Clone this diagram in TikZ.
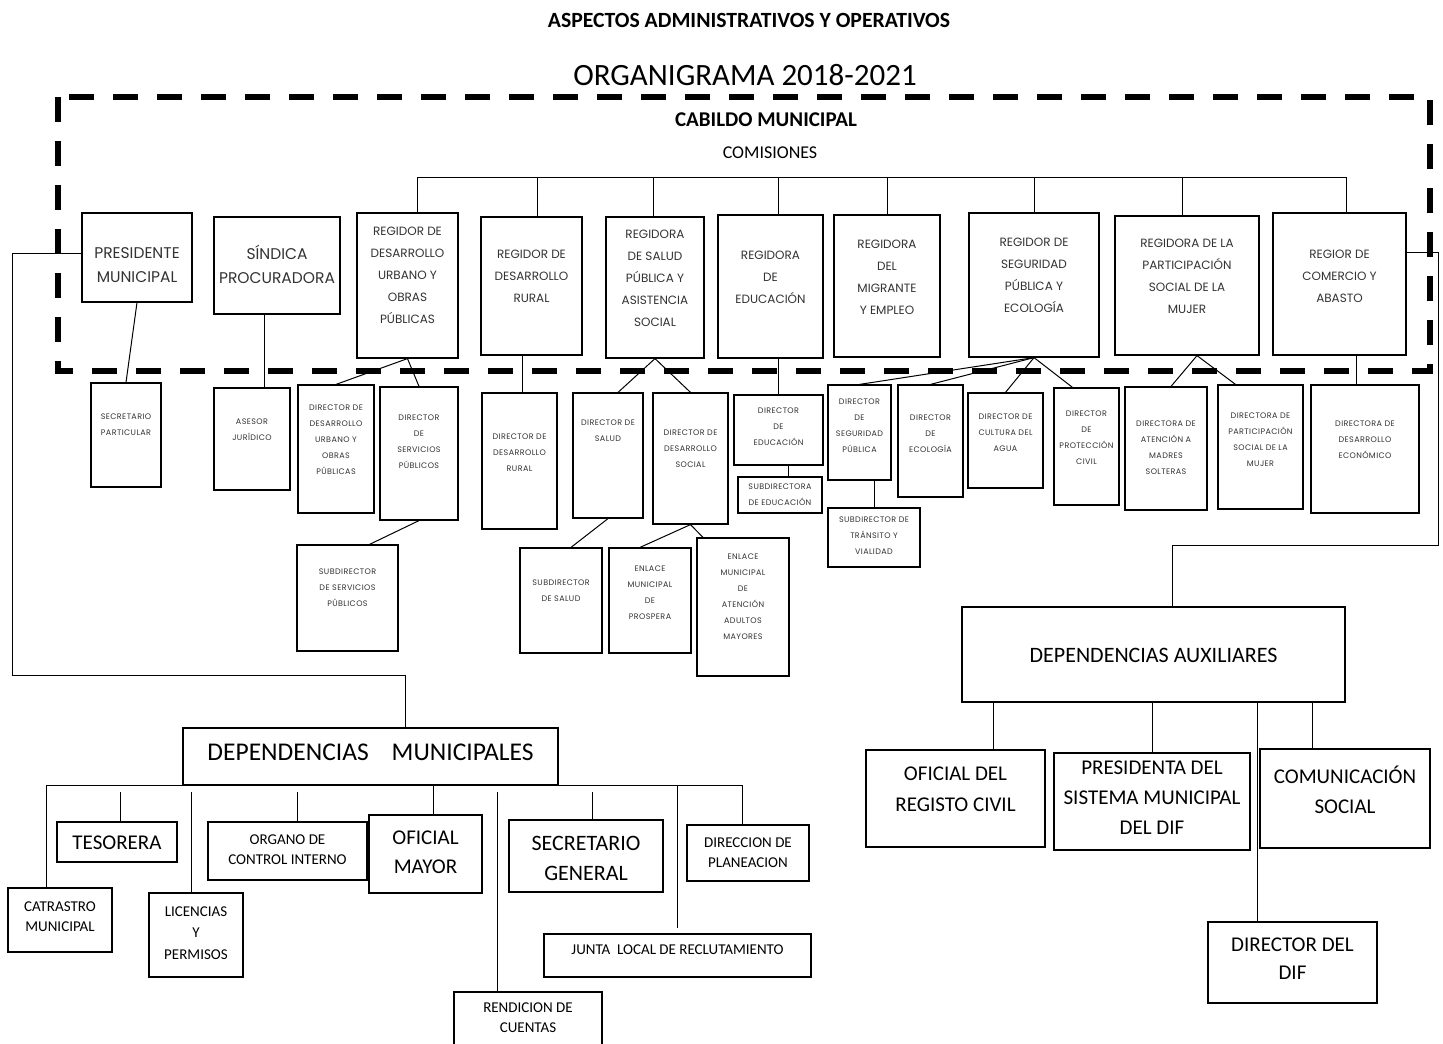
\documentclass[tikz,border=0pt]{standalone}
\usepackage{fontspec}
\setmainfont{Carlito}
\newfontfamily\gothic{Poppins}
\newfontfamily\dirfont[LetterSpace=5]{Poppins}
\usetikzlibrary{fit}
\newcommand{\obox}[8][]{%
  \node[box, fit={(#3,#4) (#5,#6)}] (#2) {};
  \node[txt, #1] (#2-t) at ({(#3+#5)/2},#7) {#8};}
\tikzset{
  box/.style={draw, line width=1.2pt, inner sep=0pt},
  txt/.style={align=center, inner sep=0pt},
  regt/.style={font=\gothic\fontsize{12}{22}\selectfont, text=black!80},
  bigt/.style={font=\gothic\fontsize{15.5}{24}\selectfont, text=black!80},
  dirt/.style={font=\dirfont\fontsize{8}{16}\selectfont, text=black!80},
  calt/.style={font=\fontsize{15}{20}\selectfont},
  calm/.style={font=\fontsize{21}{30}\selectfont},
  conn/.style={line width=1pt},
  dashbox/.style={line width=6pt, dash pattern=on 25pt off 19pt},
}
\begin{document}
\begin{tikzpicture}[x=1pt,y=-1pt]
\useasboundingbox (0,0) rectangle (1443,1044);
\fill[white] (0,0) rectangle (1443,1044);

% titles
\node[font=\bfseries\fontsize{21.7}{25}\selectfont] (title) at (749,20) {ASPECTOS ADMINISTRATIVOS Y OPERATIVOS};
\node[font=\fontsize{31}{36}\selectfont] (orga) at (745,75) {ORGANIGRAMA 2018-2021};
\draw[dashbox] (58,97) rectangle (1430,371);
\node[font=\bfseries\fontsize{21}{25}\selectfont] (cabildo) at (766,120) {CABILDO MUNICIPAL};
\node[font=\fontsize{18}{22}\selectfont] (comis) at (770,153) {COMISIONES};

% top row
\obox[bigt]{pres}{82}{213}{192}{302}{265}{PRESIDENTE\\MUNICIPAL}
\obox[bigt]{sind}{214}{217}{340}{314}{264}{SÍNDICA\\PROCURADORA}
\obox[regt]{regdu}{357}{213}{458}{358}{275}{REGIDOR DE\\DESARROLLO\\URBANO Y\\OBRAS\\PÚBLICAS}
\obox[regt]{rural}{481}{217}{582}{355}{276}{REGIDOR DE\\DESARROLLO\\RURAL}
\obox[regt]{salud}{606}{217}{704}{358}{278}{REGIDORA\\DE SALUD\\PÚBLICA Y\\ASISTENCIA\\SOCIAL}
\obox[regt]{educ}{718}{215}{823}{358}{277}{REGIDORA\\DE\\EDUCACIÓN}
\obox[regt]{migr}{834}{215}{940}{357}{277}{REGIDORA\\DEL\\MIGRANTE\\Y EMPLEO}
\obox[regt]{seg}{969}{213}{1099}{357}{275}{REGIDOR DE\\SEGURIDAD\\PÚBLICA Y\\ECOLOGÍA}
\obox[regt]{part}{1115}{216}{1259}{355}{276}{REGIDORA DE LA\\PARTICIPACIÓN\\SOCIAL DE LA\\MUJER}
\obox[regt]{com}{1273}{213}{1406}{355}{276}{REGIOR DE\\COMERCIO Y\\ABASTO}

% top bus
\coordinate (busL) at (417,177);
\coordinate (busR) at (1346,177);
\draw[conn] (busL) -- (busR);
\draw[conn] ([xshift=9.5pt]regdu.north) -- ([xshift=9.5pt]regdu.north |- busL);
\draw[conn] ([xshift=5.5pt]rural.north) -- ([xshift=5.5pt]rural.north |- busL);
\draw[conn] ([xshift=-2pt]salud.north) -- ([xshift=-2pt]salud.north |- busL);
\draw[conn] ([xshift=7.5pt]educ.north) -- ([xshift=7.5pt]educ.north |- busL);
\draw[conn] (migr.north) -- (migr.north |- busL);
\draw[conn] (seg.north) -- (seg.north |- busL);
\draw[conn] ([xshift=-5pt]part.north) -- ([xshift=-5pt]part.north |- busL);
\draw[conn] ([xshift=6.5pt]com.north) -- ([xshift=6.5pt]com.north |- busL);

% second row
\obox[dirt]{secp}{91}{383}{161}{487}{425}{SECRETARIO\\PARTICULAR}
\obox[dirt]{ases}{214}{388}{290}{490}{430}{ASESOR\\JURÍDICO}
\obox[dirt]{ddu}{298}{385}{374}{513}{440}{DIRECTOR DE\\DESARROLLO\\URBANO Y\\OBRAS\\PÚBLICAS}
\obox[dirt]{dserv}{380}{387}{458}{520}{442}{DIRECTOR\\DE\\SERVICIOS\\PÚBLICOS}
\obox[dirt]{subserv}{297}{545}{398}{651}{588}{SUBDIRECTOR\\DE SERVICIOS\\PÚBLICOS}
\obox[dirt]{drur}{482}{393}{557}{529}{453}{DIRECTOR DE\\DESARROLLO\\RURAL}
\obox[dirt]{dsal}{573}{393}{643}{518}{431}{DIRECTOR DE\\SALUD}
\obox[dirt]{dds}{653}{393}{728}{524}{449}{DIRECTOR DE\\DESARROLLO\\SOCIAL}
\obox[dirt]{subsal}{520}{548}{602}{653}{591}{SUBDIRECTOR\\DE SALUD}
\obox[dirt]{prosp}{609}{548}{691}{653}{593}{ENLACE\\MUNICIPAL\\DE\\PROSPERA}
\obox[dirt]{adult}{697}{538}{789}{676}{597}{ENLACE\\MUNICIPAL\\DE\\ATENCIÓN\\ADULTOS\\MAYORES}
\obox[dirt]{dedu}{734}{395}{823}{465}{427}{DIRECTOR\\DE\\EDUCACIÓN}
\obox[dirt]{subedu}{738}{477}{822}{513}{495}{SUBDIRECTORA\\DE EDUCACIÓN}
\obox[dirt]{dseg}{828}{385}{891}{480}{426}{DIRECTOR\\DE\\SEGURIDAD\\PÚBLICA}
\obox[dirt]{subtr}{828}{508}{920}{567}{536}{SUBDIRECTOR DE\\TRÁNSITO Y\\VIALIDAD}
\obox[dirt]{decol}{898}{385}{963}{497}{434}{DIRECTOR\\DE\\ECOLOGÍA}
\obox[dirt]{dcult}{968}{393}{1043}{488}{433}{DIRECTOR DE\\CULTURA DEL\\AGUA}
\obox[dirt]{dprot}{1054}{388}{1119}{505}{438}{DIRECTOR\\DE\\PROTECCIÓN\\CIVIL}
\obox[dirt]{madres}{1125}{387}{1207}{510}{448}{DIRECTORA DE\\ATENCIÓN A\\MADRES\\SOLTERAS}
\obox[dirt]{dpart}{1218}{385}{1303}{509}{440}{DIRECTORA DE\\PARTICIPACIÓN\\SOCIAL DE LA\\MUJER}
\obox[dirt]{decon}{1311}{385}{1419}{513}{440}{DIRECTORA DE\\DESARROLLO\\ECONÓMICO}

% second row connectors
\draw[conn] (pres.south) -- (secp.north);
\draw[conn] ([xshift=-13pt]sind.south) -- ([xshift=-13pt]sind.south |- ases.north);
\draw[conn] (regdu.south) -- (ddu.north);
\draw[conn] (regdu.south) -- (dserv.north);
\draw[conn] (dserv.south) -- ([xshift=22pt]subserv.north);
\draw[conn] ([xshift=3pt]drur.north) -- ([xshift=3pt]drur.north |- rural.south);
\draw[conn] (salud.south) -- ([xshift=10pt]dsal.north);
\draw[conn] (salud.south) -- (dds.north);
\draw[conn] (dsal.south) -- ([xshift=10pt]subsal.north);
\draw[conn] (dds.south) -- ([xshift=-10pt]prosp.north);
\draw[conn] (dds.south) -- ([xshift=-40pt]adult.north);
\draw[conn] (dedu.north) -- (dedu.north |- educ.south);
\draw[conn] ([xshift=8pt]subedu.north) -- ([xshift=8pt]subedu.north |- dedu.south);
\draw[conn] (seg.south) -- (dseg.north);
\draw[conn] (seg.south) -- (decol.north);
\draw[conn] (seg.south) -- (dcult.north);
\draw[conn] (seg.south) -- ([xshift=-14pt]dprot.north);
\draw[conn] (subtr.north) -- (subtr.north |- dseg.south);
\draw[conn] ([xshift=10pt]part.south) -- ([xshift=5pt]madres.north);
\draw[conn] ([xshift=10pt]part.south) -- ([xshift=-25pt]dpart.north);
\draw[conn] ([xshift=17pt]com.south) -- ([xshift=17pt]com.south |- decon.north);

% dependencias municipales
\obox[font=\fontsize{25.5}{30}\selectfont]{dm}{183}{728}{558}{785}{752}{DEPENDENCIAS\hspace{0.9em}MUNICIPALES}
\obox[font=\fontsize{21}{29}\selectfont]{tes}{57}{822}{177}{862}{843}{TESORERA}
\obox[calt]{orgc}{208}{822}{367}{880}{850}{ORGANO DE\\CONTROL INTERNO}
\obox[font=\fontsize{21}{29}\selectfont]{ofm}{369}{815}{482}{893}{852}{OFICIAL\\MAYOR}
\obox[calt]{catas}{8}{888}{112}{952}{917}{CATRASTRO\\MUNICIPAL}
\obox[font=\fontsize{15}{21.5}\selectfont]{lic}{149}{893}{243}{977}{933}{LICENCIAS\\Y\\PERMISOS}
\obox[font=\fontsize{22}{30}\selectfont]{secg}{509}{820}{663}{892}{858}{SECRETARIO\\GENERAL}
\obox[calt]{dplan}{687}{825}{809}{881}{853}{DIRECCION DE\\PLANEACION}
\obox[calt]{junta}{544}{934}{811}{977}{950}{JUNTA\ \ LOCAL DE RECLUTAMIENTO}
\obox[calt]{rend}{454}{992}{602}{1050}{1018}{RENDICION DE\\CUENTAS}

\coordinate (bus) at (0,785);
\coordinate (gap) at (0,792);
\coordinate (lc) at (12,675);
\draw[conn] ([yshift=4pt]pres.west) -| (lc) -| ([xshift=34.5pt]dm.north);
\draw[conn] ([xshift=-13.5pt]catas.north) |- ([xshift=-6pt]dplan.north |- bus) -- ([xshift=-6pt]dplan.north);
\draw[conn] ([xshift=3.5pt]tes.north |- gap) -- ([xshift=3.5pt]tes.north);
\draw[conn] ([xshift=-5pt]lic.north |- gap) -- ([xshift=-5pt]lic.north);
\draw[conn] ([xshift=9.5pt]orgc.north |- gap) -- ([xshift=9.5pt]orgc.north);
\draw[conn] ([xshift=7.5pt]ofm.north |- bus) -- ([xshift=7.5pt]ofm.north);
\draw[conn] ([xshift=-31pt]rend.north |- gap) -- ([xshift=-31pt]rend.north);
\draw[conn] ([xshift=6pt]secg.north |- gap) -- ([xshift=6pt]secg.north);
\draw[conn] (junta.north |- bus) -- ([yshift=5pt]junta.north);

% dependencias auxiliares
\obox[font=\fontsize{22}{26}\selectfont]{da}{962}{607}{1345}{702}{655}{DEPENDENCIAS AUXILIARES}
\obox[calm, font=\fontsize{21}{31}\selectfont]{ofreg}{866}{750}{1045}{847}{789}{OFICIAL DEL\\REGISTO CIVIL}
\obox[calm]{presdif}{1054}{753}{1250}{850}{798}{PRESIDENTA DEL\\SISTEMA MUNICIPAL\\DEL DIF}
\obox[calm]{comsoc}{1260}{749}{1430}{848}{790}{COMUNICACIÓN\\SOCIAL}
\obox[calm, font=\fontsize{21}{28}\selectfont]{dif}{1208}{922}{1377}{1003}{959}{DIRECTOR DEL\\DIF}

\coordinate (rc) at (1438,545);
\draw[conn] ([yshift=32pt]com.east) -| (rc) -| ([xshift=18.5pt]da.north);
\draw[conn] ([xshift=37.5pt]ofreg.north) -- ([xshift=37.5pt]ofreg.north |- da.south);
\draw[conn] (presdif.north) -- (presdif.north |- da.south);
\draw[conn] ([xshift=-35.5pt]dif.north) -- ([xshift=-35.5pt]dif.north |- da.south);
\draw[conn] ([xshift=-33pt]comsoc.north) -- ([xshift=-33pt]comsoc.north |- da.south);
\end{tikzpicture}
\end{document}
